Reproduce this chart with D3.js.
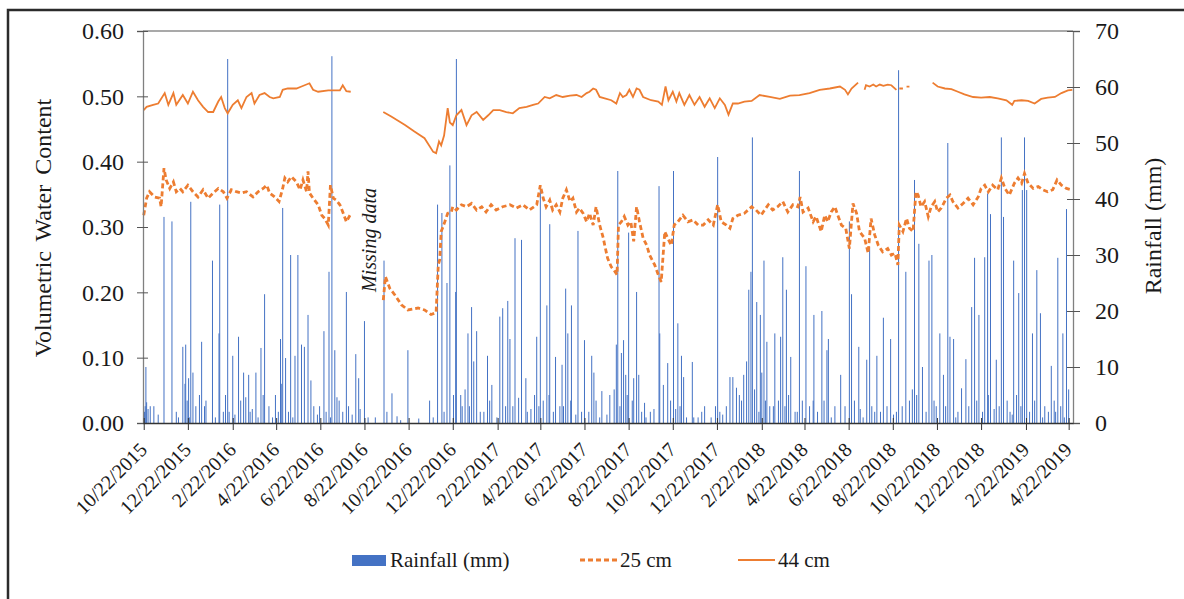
<!DOCTYPE html>
<html>
<head>
<meta charset="utf-8">
<script src="https://cdn.jsdelivr.net/npm/d3@7"></script>
<style>
  body { margin: 0; background: #fff; }
  svg { display: block; }
  text { font-family: "Liberation Serif", "Times New Roman", serif; fill: #1a1a1a; }
</style>
</head>
<body>
<svg id="chart" width="1184" height="599"></svg>
<script>
// day offsets are counted from 10/22/2015
var START = new Date(2015, 9, 22);
var SERIF = '"Liberation Serif", "Times New Roman", serif';

// [day, mm]
var rainfall = [[1,2],[2,3],[3,10],[4,3.7],[6,2.5],[9,3],[14,3],[20,1.5],[28,36.8],[39,36],[45,2],[54,13.6],[58,14],[62,8],[65,39.5],[68,9],[72,3],[80,14.5],[86,4],[95,29],[104,16],[105,39],[110,2],[116,65],[123,12],[131,15.4],[141,4.6],[145,8.6],[150,2.5],[155,9],[162,13.4],[167,23],[173,3],[178,1],[182,5],[189,15],[192,38.4],[196,11.6],[200,2],[203,30],[209,12],[213,30],[218,14],[222,13.6],[227,19.3],[235,3],[240,1.5],[249,16.4],[256,27],[260,65.5],[264,13],[267,4.6],[275,2],[280,23.4],[293,12.3],[297,8],[305,18.2],[310,1],[332,29],[343,5.3],[350,1.2],[365,13],[380,0.8],[395,4],[406,39],[412,37.5],[419,25],[423,46],[431,23.4],[432,65],[438,5],[440,3],[448,16],[453,20.7],[456,11],[460,16.4],[465,2],[475,12],[481,6.8],[492,19],[496,20.5],[500,3],[503,21.8],[506,15],[513,33],[522,32.7],[528,8],[535,2.5],[543,15.4],[548,42],[552,4],[557,21],[561,35.5],[569,11.8],[575,3],[578,10.4],[583,24],[586,16],[591,21],[600,34.3],[605,2],[609,14.8],[619,12],[622,9],[633,5.7],[640,1.5],[644,5],[653,14],[655,45],[660,12.5],[663,14.8],[666,8.6],[670,34],[677,8],[681,23.4],[684,8.6],[692,3.6],[700,2],[712,42.3],[713,16],[718,6.8],[724,10.7],[732,45],[735,2.5],[738,17.8],[743,12],[746,8.2],[758,10.9],[760,1],[771,2],[775,3],[790,3],[793,47.5],[800,1.5],[810,8.2],[814,8.2],[819,6.3],[829,8.6],[833,11],[836,23.8],[839,27],[841,51],[847,21.6],[850,2],[852,19.3],[854,9],[857,29],[861,14.5],[870,3],[872,16],[880,15.4],[883,29.6],[888,23.8],[894,11.8],[900,2],[906,45],[915,28],[925,4],[926,19.3],[937,20],[944,13],[946,15],[955,3],[963,8.6],[975,36],[978,23],[988,13.6],[990,2.5],[999,11.3],[1003,31.4],[1010,2],[1013,12],[1022,18.8],[1032,15],[1040,2],[1043,63],[1053,27],[1065,43.4],[1071,32],[1076,10],[1085,29],[1089,30],[1095,3],[1100,16],[1105,8.6],[1111,50],[1114,15.4],[1119,15],[1125,2],[1130,6.2],[1136,11.4],[1144,20.7],[1148,29.5],[1154,19.3],[1162,29.6],[1166,41],[1170,37.3],[1175,2.5],[1178,11.3],[1185,51],[1188,36.8],[1200,1.5],[1202,29],[1209,23.2],[1214,41.6],[1217,51],[1220,41.6],[1228,16],[1234,27.3],[1239,19.6],[1245,3],[1254,10.2],[1260,2],[1263,29.5],[1270,16],[1275,38.2]];

// the many small events near the baseline, [day, mm]
var lightRain = [[48,1],[57,7],[60,4],[63,1],[77,5],[84,3],[99,1],[113,5],[118,2],[126,1.5],[134,4],[138,9],[147,2],[158,1],[165,5],[186,2],[190,7],[206,1],[231,7.6],[243,3],[252,2],[258,1],[270,4],[283,3],[288,1.5],[299,2.5],[320,1],[336,2],[355,0.5],[400,1],[415,2],[428,5],[444,6],[450,3],[470,2],[478,4],[488,1],[510,3],[518,4.5],[530,2],[540,5],[546,3],[560,5],[566,2],[580,3],[590,4],[597,1.5],[615,2],[625,4],[630,1],[650,6],[658,3],[668,5],[675,4],[688,2],[694,1],[705,2.5],[728,4],[741,3],[750,1],[766,1],[784,1],[796,2],[805,3],[823,5],[826,4],[844,6],[859,4],[865,3],[877,4],[886,3],[891,5],[903,2],[910,4],[920,3],[931,2],[940,4],[950,1],[969,3],[982,4],[994,1],[1006,3],[1018,2],[1027,3],[1036,1.5],[1048,3],[1058,4],[1062,6],[1068,5],[1081,2],[1092,4],[1108,3],[1122,1],[1140,3],[1151,4],[1159,2],[1167,5],[1182,3],[1193,4],[1197,2],[1206,5],[1212,3],[1224,2],[1231,4],[1242,1],[1250,2],[1258,4],[1267,3],[1272,1],[1278,6]];

// [day, volumetric water content], null = no reading
var vwc25 = [[0,.318],[4,.344],[8,.354],[15,.346],[22,.344],[24,.331],[28,.390],[31,.372],[36,.359],[41,.369],[45,.354],[50,.359],[54,.354],[61,.364],[68,.354],[75,.346],[82,.357],[89,.344],[96,.352],[103,.359],[110,.354],[115,.344],[121,.357],[128,.354],[135,.352],[142,.354],[151,.346],[158,.354],[165,.359],[170,.364],[174,.352],[181,.346],[187,.339],[192,.359],[195,.375],[199,.369],[204,.377],[211,.369],[216,.357],[220,.372],[225,.354],[227,.385],[229,.352],[234,.344],[241,.334],[246,.318],[250,.313],[255,.303],[258,.364],[262,.344],[266,.341],[271,.334],[275,.323],[280,.308],[285,.318],[300,null],[331,.188],[334,.224],[340,.206],[347,.196],[356,.181],[365,.173],[379,.176],[388,.173],[397,.166],[404,.169],[407,.242],[409,.250],[411,.293],[416,.308],[420,.321],[425,.323],[427,.331],[432,.326],[439,.334],[446,.331],[453,.336],[460,.326],[467,.331],[473,.323],[480,.334],[487,.326],[496,.331],[506,.334],[515,.329],[524,.334],[533,.326],[543,.334],[548,.364],[552,.344],[556,.331],[561,.341],[565,.326],[570,.334],[575,.323],[579,.344],[584,.357],[589,.339],[593,.344],[598,.323],[602,.329],[607,.321],[612,.308],[616,.321],[621,.303],[625,.331],[630,.303],[635,.283],[637,.272],[641,.252],[646,.239],[651,.232],[654,.227],[656,.303],[660,.308],[664,.316],[669,.303],[673,.308],[677,.278],[681,.331],[685,.308],[690,.283],[695,.272],[699,.257],[706,.242],[711,.227],[715,.216],[720,.293],[724,.283],[729,.272],[733,.303],[738,.308],[745,.318],[752,.308],[759,.311],[766,.303],[773,.303],[780,.311],[787,.303],[793,.334],[798,.308],[805,.303],[810,.298],[814,.313],[821,.318],[830,.321],[840,.331],[846,.326],[853,.318],[856,.323],[863,.334],[869,.326],[876,.331],[883,.339],[890,.323],[897,.334],[904,.331],[907,.346],[911,.323],[918,.329],[925,.308],[929,.316],[936,.293],[941,.318],[945,.308],[950,.323],[955,.331],[959,.318],[964,.303],[970,.298],[975,.267],[980,.336],[985,.321],[989,.293],[996,.283],[1001,.260],[1005,.313],[1010,.288],[1015,.272],[1021,.262],[1028,.267],[1033,.257],[1038,.260],[1042,.242],[1044,.303],[1049,.293],[1054,.313],[1058,.298],[1063,.293],[1067,.354],[1070,.349],[1074,.331],[1079,.339],[1084,.316],[1088,.331],[1093,.339],[1097,.323],[1102,.329],[1109,.344],[1114,.349],[1118,.339],[1125,.329],[1132,.336],[1139,.344],[1146,.334],[1153,.346],[1157,.359],[1162,.364],[1167,.354],[1173,.364],[1180,.357],[1185,.375],[1190,.359],[1196,.349],[1203,.367],[1208,.375],[1213,.367],[1217,.382],[1222,.367],[1229,.359],[1236,.362],[1242,.357],[1249,.354],[1256,.357],[1262,.372],[1268,.364],[1275,.359],[1282,.357]];

var vwc44 = [[0,.479],[4,.484],[13,.487],[20,.489],[29,.505],[34,.487],[41,.505],[45,.487],[54,.502],[61,.489],[68,.507],[75,.494],[82,.484],[89,.476],[96,.476],[103,.492],[107,.499],[112,.482],[116,.474],[123,.487],[130,.494],[135,.482],[142,.499],[149,.505],[153,.489],[160,.502],[167,.505],[174,.499],[179,.497],[188,.499],[192,.510],[199,.512],[211,.512],[218,.515],[229,.520],[234,.510],[241,.507],[255,.509],[271,.509],[275,.517],[280,.508],[286,.507],[300,null],[331,.476],[342,.469],[361,.456],[374,.446],[388,.436],[400,.415],[404,.413],[408,.431],[411,.425],[415,.440],[420,.482],[423,.460],[427,.456],[432,.471],[439,.479],[446,.456],[453,.471],[460,.476],[469,.464],[476,.471],[483,.479],[492,.479],[501,.476],[510,.474],[519,.482],[529,.484],[538,.487],[545,.489],[554,.499],[561,.497],[570,.502],[579,.499],[589,.501],[598,.502],[605,.499],[612,.505],[616,.507],[621,.512],[625,.510],[630,.499],[637,.497],[646,.494],[653,.489],[658,.505],[662,.499],[667,.502],[671,.510],[676,.499],[681,.512],[685,.510],[690,.499],[701,.494],[711,.492],[716,.487],[721,.515],[725,.494],[731,.507],[736,.492],[740,.505],[747,.487],[754,.502],[761,.487],[768,.499],[775,.484],[782,.497],[789,.482],[796,.497],[803,.487],[808,.472],[814,.489],[821,.489],[830,.492],[840,.493],[851,.502],[865,.499],[879,.496],[893,.501],[906,.502],[920,.505],[934,.510],[948,.512],[962,.515],[969,.510],[973,.503],[978,.512],[987,.521],[991,null],[996,.510],[998,.517],[1003,.515],[1008,.518],[1012,.515],[1017,.518],[1022,.516],[1028,.518],[1033,.517],[1040,.510],[1042,null],[1044,.512],[1049,.512],[1051,null],[1054,.515],[1058,.515],[1060,null],[1090,.521],[1097,.515],[1107,.512],[1116,.511],[1125,.507],[1134,.503],[1146,.499],[1157,.498],[1169,.499],[1180,.497],[1192,.494],[1200,.487],[1203,.493],[1213,.494],[1222,.493],[1231,.489],[1240,.496],[1249,.498],[1259,.499],[1268,.505],[1277,.509],[1283,.510]];

var vwcTicks = [0, 0.1, 0.2, 0.3, 0.4, 0.5, 0.6];
var rainTicks = [0, 10, 20, 30, 40, 50, 60, 70];
var dateTicks = d3.range(0, 22).map(function(i) { return new Date(2015, 9 + 2 * i, 22); });

const ORANGE = '#ED7D31';
const BLUE = '#4472C4';

var plotLeft = 143, plotRight = 1073, plotTop = 31, plotBottom = 423;

var svg = d3.select('#chart').style('font-family', SERIF);

function day(d) {
  return d3.timeDay.offset(START, d);
}

var x = d3.scaleTime()
  .domain([new Date(2015, 9, 21), new Date(2019, 3, 28)])
  .range([plotLeft, plotRight]);
var yL = d3.scaleLinear().domain([0, 0.6]).range([plotBottom, plotTop]);
var yR = d3.scaleLinear().domain([0, 70]).range([plotBottom, plotTop]);

// outer frame
svg.append('rect')
  .attr('x', 8).attr('y', 10)
  .attr('width', 1240).attr('height', 640)
  .attr('fill', 'none')
  .attr('stroke', '#2b2b2b')
  .attr('stroke-width', 2.5);

svg.append('line')
  .attr('x1', plotLeft).attr('x2', plotRight)
  .attr('y1', plotTop).attr('y2', plotTop)
  .attr('stroke', '#8c8c8c').attr('stroke-width', 1.3);

// rainfall bars
svg.append('g')
  .selectAll('rect')
  .data(lightRain.concat(rainfall))
  .join('rect')
    .attr('x', function(d) { return x(day(d[0])) - 0.5; })
    .attr('width', 1)
    .attr('y', function(d) { return yR(d[1]); })
    .attr('height', function(d) { return plotBottom - yR(d[1]); })
    .attr('fill', BLUE);

var line = d3.line()
  .defined(function(d) { return d[1] != null; })
  .x(function(d) { return x(day(d[0])); })
  .y(function(d) { return yL(d[1]); });

svg.append('path')
  .datum(vwc44)
  .attr('d', line)
  .attr('fill', 'none')
  .attr('stroke', ORANGE)
  .attr('stroke-width', 1.8);

svg.append('path')
  .datum(vwc25)
  .attr('d', line)
  .attr('fill', 'none')
  .attr('stroke', ORANGE)
  .attr('stroke-width', 2.8)
  .attr('stroke-dasharray', '5,3');

// left axis
var gL = svg.append('g')
  .attr('transform', 'translate(' + plotLeft + ',0)')
  .call(d3.axisLeft(yL).tickValues(d3.range(0, 0.61, 0.02)).tickSize(-5).tickFormat(''))
  .call(d3.axisLeft(yL).tickValues(vwcTicks).tickSize(6).tickPadding(13).tickFormat(d3.format('.2f')))
  .attr('font-family', SERIF);
gL.selectAll('.domain').attr('stroke', '#808080').attr('stroke-width', 1.3);
gL.selectAll('.tick line').attr('stroke', '#555');
gL.selectAll('.tick text').style('font-size', '24px').attr('fill', '#1a1a1a');
gL.selectAll('.tick').filter(function(d) { return vwcTicks.indexOf(+d.toFixed(2)) >= 0; })
  .select('line').attr('x1', 5);

// right axis
var gR = svg.append('g')
  .attr('transform', 'translate(' + plotRight + ',0)')
  .call(d3.axisRight(yR).tickValues(d3.range(0, 71, 2)).tickSize(-5).tickFormat(''))
  .call(d3.axisRight(yR).tickValues(rainTicks).tickSize(7).tickPadding(15))
  .attr('font-family', SERIF);
gR.selectAll('.domain').attr('stroke', '#808080').attr('stroke-width', 1.3);
gR.selectAll('.tick line').attr('stroke', '#555');
gR.selectAll('.tick text').style('font-size', '24px').attr('fill', '#1a1a1a');
gR.selectAll('.tick').filter(function(d) { return rainTicks.indexOf(d) >= 0; })
  .select('line').attr('x1', -6);

// date axis
var gX = svg.append('g')
  .attr('transform', 'translate(0,' + plotBottom + ')')
  .call(d3.axisBottom(x).tickValues(dateTicks).tickSize(7).tickSizeOuter(0)
    .tickFormat(d3.timeFormat('%-m/%-d/%Y')))
  .attr('font-family', SERIF);
gX.selectAll('.domain').attr('stroke', '#333').attr('stroke-width', 1.3);
gX.selectAll('.tick line').attr('y1', -5).attr('stroke', '#333');
gX.selectAll('.tick text')
  .attr('x', 0).attr('y', 0).attr('dy', 0)
  .attr('transform', 'translate(4,28) rotate(-45)')
  .style('text-anchor', 'end')
  .style('font-size', '20px')
  .attr('fill', '#1a1a1a');

// titles
svg.append('text')
  .attr('transform', 'translate(51,228) rotate(-90)')
  .attr('text-anchor', 'middle')
  .style('font-size', '24px')
  .style('word-spacing', '4px')
  .text('Volumetric Water Content');

svg.append('text')
  .attr('transform', 'translate(1161,226) rotate(-90)')
  .attr('text-anchor', 'middle')
  .style('font-size', '24px')
  .text('Rainfall (mm)');

svg.append('text')
  .attr('transform', 'translate(376,240) rotate(-90)')
  .attr('text-anchor', 'middle')
  .style('font-size', '20px')
  .style('font-style', 'italic')
  .text('Missing data');

// legend
var legend = svg.append('g');
legend.append('rect')
  .attr('x', 352).attr('y', 555)
  .attr('width', 34).attr('height', 11)
  .attr('fill', BLUE);
legend.append('text').attr('x', 390).attr('y', 567).style('font-size', '21px').text('Rainfall (mm)');
legend.append('line')
  .attr('x1', 580).attr('x2', 617).attr('y1', 560).attr('y2', 560)
  .attr('stroke', ORANGE).attr('stroke-width', 2.8).attr('stroke-dasharray', '5,3');
legend.append('text').attr('x', 620).attr('y', 567).style('font-size', '21px').text('25 cm');
legend.append('line')
  .attr('x1', 738).attr('x2', 775).attr('y1', 560).attr('y2', 560)
  .attr('stroke', ORANGE).attr('stroke-width', 1.8);
legend.append('text').attr('x', 778).attr('y', 567).style('font-size', '21px').text('44 cm');
</script>
</body>
</html>
